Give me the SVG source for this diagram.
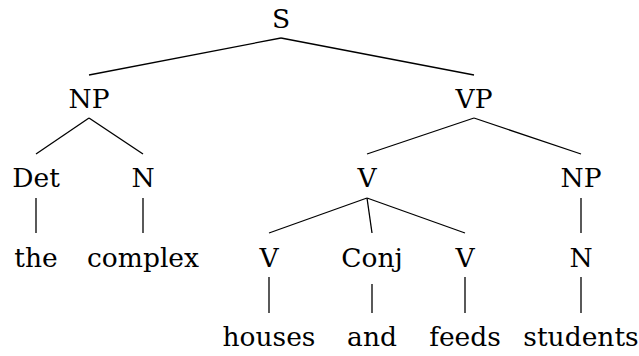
<svg xmlns="http://www.w3.org/2000/svg" width="639" height="356" viewBox="0 0 639 356">
<style>
.t text{font-family:'DejaVu Serif','Noto Serif',serif;font-size:26.5px;fill:#000;text-anchor:middle}
.e line{stroke:#000;stroke-width:1.3;fill:none}
</style>
<rect width="639" height="356" fill="#fff"/>
<g class="e" id="edges">
<line x1="281" y1="38" x2="89" y2="75"/>
<line x1="281" y1="38" x2="474" y2="75"/>
<line x1="89" y1="118" x2="36" y2="154"/>
<line x1="89" y1="118" x2="143" y2="154"/>
<line x1="474" y1="118" x2="367" y2="154"/>
<line x1="474" y1="118" x2="581" y2="154"/>
<line x1="36" y1="198" x2="36" y2="233"/>
<line x1="143" y1="198" x2="143" y2="233"/>
<line x1="367" y1="198" x2="269" y2="233"/>
<line x1="367" y1="198" x2="372" y2="233"/>
<line x1="367" y1="198" x2="465" y2="233"/>
<line x1="581" y1="198" x2="581" y2="233"/>
<line x1="269" y1="277" x2="269" y2="313"/>
<line x1="372" y1="284" x2="372" y2="313"/>
<line x1="465" y1="277" x2="465" y2="313"/>
<line x1="581" y1="277" x2="581" y2="313"/>
</g>
<g class="t">
<g id="S"><text x="281" y="28">S</text></g>
<g id="NP1"><text x="89" y="108">NP</text></g>
<g id="VP"><text x="474" y="108">VP</text></g>
<g id="Det"><text x="36" y="187">Det</text></g>
<g id="N1"><text x="143" y="187">N</text></g>
<g id="V0"><text x="367" y="187">V</text></g>
<g id="NP2"><text x="581" y="187">NP</text></g>
<g id="the"><text x="36" y="267">the</text></g>
<g id="complex"><text x="143" y="267">complex</text></g>
<g id="V1"><text x="269" y="267">V</text></g>
<g id="Conj"><text x="372" y="267">Conj</text></g>
<g id="V2"><text x="465" y="267">V</text></g>
<g id="N2"><text x="581" y="267">N</text></g>
<g id="houses"><text x="269" y="346">houses</text></g>
<g id="and"><text x="372" y="346">and</text></g>
<g id="feeds"><text x="465" y="346">feeds</text></g>
<g id="students"><text x="581" y="346">students</text></g>
</g>
</svg>
